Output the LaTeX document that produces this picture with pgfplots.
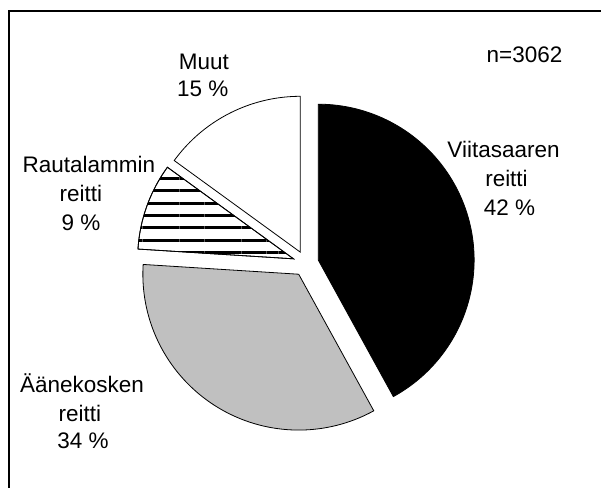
\documentclass[border=0pt]{standalone}
\usepackage{pgfplots}
\pgfplotsset{compat=1.18}
\usepackage{fontspec}
\setmainfont{Liberation Sans}
\usetikzlibrary{patterns.meta}
\definecolor{pgrey}{RGB}{192,192,192}
\newcommand{\lf}{\fontsize{22.5}{28}\selectfont}
\tikzset{lbl/.style={anchor=base, inner sep=0pt, font=\lf}}
% shares (percent), clockwise from the top:
% Viitasaaren reitti 42, Aanekosken reitti 34, Rautalammin reitti 9, Muut 15
\begin{document}
\begin{tikzpicture}
\begin{axis}[
  width=602pt, height=488pt, scale only axis,
  xmin=0, xmax=602, ymin=0, ymax=488, y dir=reverse,
  hide axis, clip=false,
]
\addplot[draw=none] coordinates {(0,0) (602,488)};
% frame (left and top)
\addplot[black, line width=1.2pt] coordinates {(9,488) (9,11) (602,11)};
% Viitasaaren reitti 42 %: 90 -> 90-42*3.6
\addplot[fill=black, draw=black, line width=0.8pt, domain={90-42*3.6}:90, samples=150, variable=\t]
  ({318.6+156*cos(t)}, {260.3-156*sin(t)}) -- (axis cs:318.6,260.3) -- cycle;
% Aanekosken reitti 34 %
\addplot[fill=pgrey, draw=black, line width=0.8pt, domain={90-76*3.6}:{90-42*3.6}, samples=150, variable=\t]
  ({299.0+156*cos(t)}, {274.5-156*sin(t)}) -- (axis cs:299.0,274.5) -- cycle;
% Rautalammin reitti 9 %
\addplot[fill=white, draw=black, line width=0.8pt, domain={90-85*3.6+360}:{90-76*3.6+360}, samples=60, variable=\t,
  postaction={pattern={Lines[angle=0,distance=12.4pt,line width=3pt]}, pattern color=black}]
  ({293.8+156*cos(t)}, {259.1-156*sin(t)}) -- (axis cs:293.8,259.1) -- cycle;
% Muut 15 %
\addplot[fill=white, draw=black, line width=0.8pt, domain=90:{90+15*3.6}, samples=80, variable=\t]
  ({300.6+156*cos(t)}, {252.4-156*sin(t)}) -- (axis cs:300.6,252.4) -- cycle;
% labels
\node[lbl] at (axis cs:525,63) {n=3062};
\node[lbl] at (axis cs:204,70) {Muut};
\node[lbl] at (axis cs:203,97) {15 \%};
\node[lbl] at (axis cs:504,158) {Viitasaaren};
\node[lbl] at (axis cs:507,187) {reitti};
\node[lbl] at (axis cs:510,216) {42 \%};
\node[lbl] at (axis cs:89,173) {Rautalammin};
\node[lbl] at (axis cs:81,202) {reitti};
\node[lbl] at (axis cs:81,231) {9 \%};
\node[lbl] at (axis cs:82,393) {Äänekosken};
\node[lbl] at (axis cs:80,422) {reitti};
\node[lbl] at (axis cs:83,449) {34 \%};
\end{axis}
\end{tikzpicture}
\end{document}
